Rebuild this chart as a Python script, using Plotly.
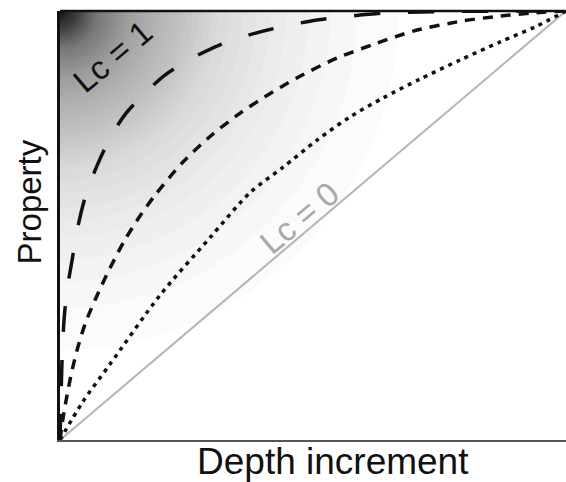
import numpy as np
import plotly.graph_objects as go

# Cumulative property vs. depth increment (both as fractions of total)
dotted_x = [0, 0.045, 0.099, 0.198, 0.296, 0.375, 0.441, 0.508, 0.573, 0.638, 0.711, 0.791, 0.870, 0.939, 1.0]
dotted_y = [0, 0.089, 0.177, 0.338, 0.471, 0.576, 0.636, 0.699, 0.753, 0.797, 0.841, 0.886, 0.928, 0.963, 1.0]

short_x = [0, 0.006, 0.014, 0.024, 0.036, 0.051, 0.071, 0.099, 0.128, 0.158, 0.188, 0.243, 0.300,
           0.356, 0.405, 0.468, 0.547, 0.626, 0.698, 0.796, 0.870, 0.929, 1.0]
short_y = [0, 0.051, 0.105, 0.163, 0.219, 0.275, 0.331, 0.401, 0.466, 0.522, 0.571, 0.648, 0.711,
           0.762, 0.800, 0.844, 0.890, 0.925, 0.953, 0.977, 0.988, 0.995, 1.0]

long_x = [0, 0.002, 0.004, 0.008, 0.014, 0.024, 0.036, 0.051, 0.073, 0.099, 0.128, 0.164, 0.208,
          0.261, 0.320, 0.379, 0.445, 0.508, 0.573, 0.638, 0.771, 1.0]
long_y = [0, 0.093, 0.186, 0.280, 0.350, 0.420, 0.501, 0.571, 0.639, 0.704, 0.758, 0.804, 0.851,
          0.890, 0.923, 0.946, 0.965, 0.979, 0.988, 0.995, 0.999, 1.0]

uniform_x = [0, 1]
uniform_y = [0, 1]

W, H = 566, 482
ML, MR, MT, MB = 60, 0, 11, 42
PW, PH = W - ML - MR, H - MT - MB

fig = go.Figure()

fig.add_trace(go.Scatter(x=uniform_x, y=uniform_y, mode="lines",
                         line=dict(color="#b4b4b4", width=2), hoverinfo="skip"))
fig.add_trace(go.Scatter(x=dotted_x, y=dotted_y, mode="lines",
                         line=dict(color="#111111", width=3.5, dash="4px,5px",
                                   shape="spline", smoothing=0.8), hoverinfo="skip"))
fig.add_trace(go.Scatter(x=short_x, y=short_y, mode="lines",
                         line=dict(color="#111111", width=3.5, dash="10px,8px",
                                   shape="spline", smoothing=0.8), hoverinfo="skip"))
fig.add_trace(go.Scatter(x=long_x, y=long_y, mode="lines",
                         line=dict(color="#111111", width=3.5, dash="26px,28px",
                                   shape="spline", smoothing=0.8), hoverinfo="skip"))

# Radial shading from the top-left corner, built from stacked translucent discs
prof_d = np.array([0, 15, 40, 70, 110, 160, 220, 290, 360])
prof_b = np.array([0.16, 0.32, 0.55, 0.67, 0.77, 0.87, 0.93, 0.975, 1.0])
alpha = 0.015
dd = np.linspace(0, 360, 1441)
n_of_d = np.log(np.interp(dd, prof_d, prof_b)) / np.log(1 - alpha)
shapes = []
k = 1
while k - 0.5 < n_of_d[0]:
    r = np.interp(k - 0.5, n_of_d[::-1], dd[::-1])
    rx, ry = r / PW, r / PH
    shapes.append(dict(type="circle", xref="x", yref="y", layer="below",
                       x0=-rx, x1=rx, y0=1 - ry, y1=1 + ry,
                       fillcolor="black", opacity=alpha, line=dict(width=0)))
    k += 1

# Closed top edge of the frame
shapes.append(dict(type="line", xref="paper", yref="paper", x0=0, x1=1, y0=1, y1=1,
                   line=dict(color="#111111", width=2.5), layer="above"))

fig.update_layout(
    width=W, height=H,
    margin=dict(l=ML, r=MR, t=MT, b=MB),
    paper_bgcolor="white", plot_bgcolor="white",
    showlegend=False,
    shapes=shapes,
    xaxis=dict(range=[0, 1], showgrid=False, zeroline=False, showticklabels=False,
               ticks="", showline=True, linecolor="#555555", linewidth=2, fixedrange=True),
    yaxis=dict(range=[0, 1], showgrid=False, zeroline=False, showticklabels=False,
               ticks="", showline=True, linecolor="#111111", linewidth=3, fixedrange=True),
    font=dict(family="Liberation Sans, Arial, sans-serif", color="#111111"),
    annotations=[
        dict(text="Lc = 1", x=0.103, y=0.895, xref="x", yref="y", showarrow=False,
             textangle=-40, font=dict(size=33, color="#111111")),
        dict(text="Lc = 0", x=0.474, y=0.518, xref="x", yref="y", showarrow=False,
             textangle=-40, font=dict(size=33, color="#a8a8a8")),
        dict(text="Property", x=-0.061, y=0.554, xref="paper", yref="paper", showarrow=False,
             textangle=-90, xanchor="center", yanchor="middle", font=dict(size=33)),
        dict(text="Depth increment", x=0.54, y=-0.051, xref="paper", yref="paper",
             showarrow=False, xanchor="center", yanchor="middle", font=dict(size=37)),
    ],
)

fig.write_html("out.html")
